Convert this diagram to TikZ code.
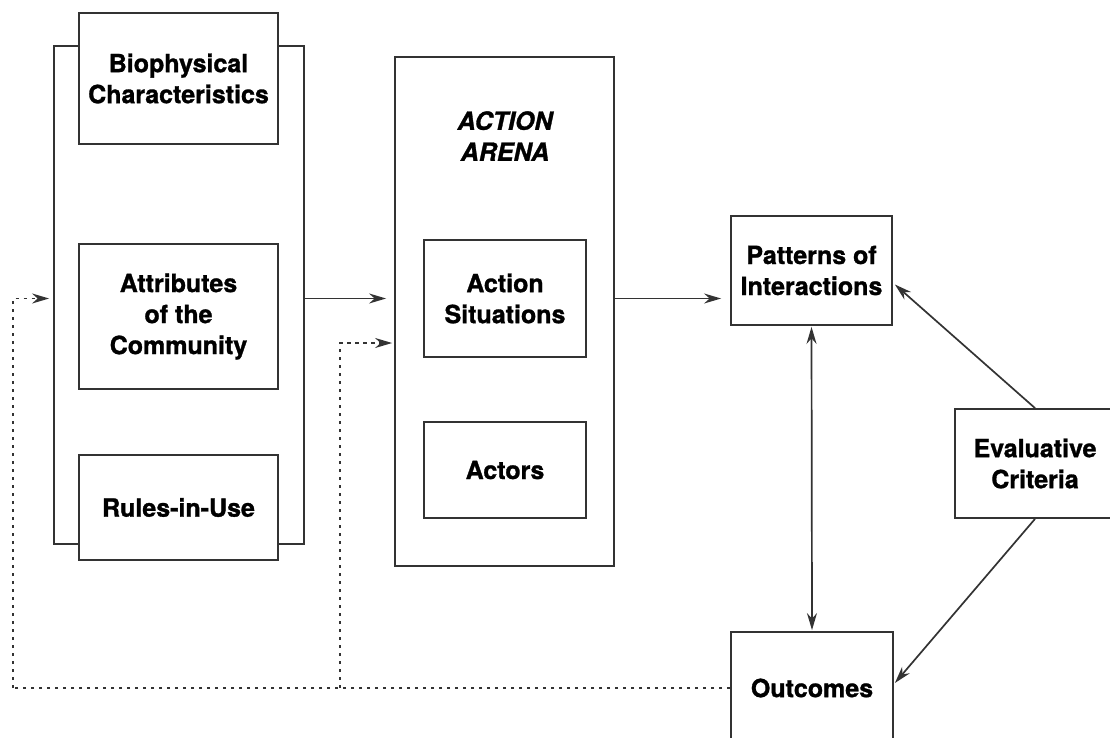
\documentclass[tikz,border=0pt]{standalone}
\usepackage{fontspec}
\setmainfont{TeX Gyre Heros}[BoldFeatures={FakeBold=1.2},BoldItalicFeatures={FakeBold=1.2}]
\usetikzlibrary{arrows.meta,calc}
\definecolor{lc}{HTML}{333333}
\begin{document}
\begin{tikzpicture}[x=1pt,y=-1pt,
  box/.style={draw=lc, line width=1.8pt, fill=white, inner sep=0pt, align=center,
              font=\bfseries\fontsize{25}{31}\selectfont},
  lbl/.style={inner sep=0pt, align=center, font=\bfseries\itshape\fontsize{25}{31}\selectfont},
  tip/.style={-{Stealth[length=17pt,width=10pt]}},
  arr/.style={draw=lc, line width=1.7pt, tip},
  dotarr/.style={arr, dash pattern=on 3.5pt off 4.5pt},
  dotline/.style={draw=lc, line width=1.7pt, dash pattern=on 3.5pt off 4.5pt}]
\useasboundingbox (0,0) rectangle (1110,738);

% left group
\node[box, minimum width=250pt, minimum height=498pt] (frame) at (179,295) {};
\node[box, minimum width=199pt, minimum height=131pt] (bio) at (178.5,78.5) {Biophysical\\Characteristics};
\node[box, minimum width=199pt, minimum height=145pt] (attr) at (178.5,316.5) {Attributes\\of the\\Community};
\node[box, minimum width=199pt, minimum height=105pt] (rules) at (178.5,507.5) {Rules-in-Use};

% action arena
\node[box, minimum width=219pt, minimum height=509pt] (arena) at (504.5,311.5) {};
\node[lbl] (arenalbl) at (505,136) {ACTION\\ARENA};
\node[box, minimum width=162pt, minimum height=117pt] (as) at (505,298.5) {Action\\Situations};
\node[box, minimum width=162pt, minimum height=96pt] (actors) at (505,470) {Actors};

% right side
\node[box, minimum width=161pt, minimum height=109pt] (pat) at (811.5,270.5) {Patterns of\\Interactions};
\node[box, minimum width=162pt, minimum height=112pt] (out) at (812,688) {Outcomes};
\node[box, minimum width=160pt, minimum height=109pt] (ev) at (1035,463.5) {Evaluative\\Criteria};

% solid connectors
\draw[arr, shorten >=8pt] (frame.east |- as.center) -- (arena.west |- as.center);
\draw[arr, shorten >=9pt] (arena.east |- as.center) -- (pat.west |- as.center);
\draw[draw=lc, line width=1.7pt, {Stealth[length=17pt,width=10pt]}-{Stealth[length=17pt,width=10pt]}, shorten <=1pt, shorten >=1pt] (pat.south) -- (out.north);
\draw[arr] (ev.north) -- ([shift={(2,14)}]pat.east);
\draw[arr] (ev.south) -- ([shift={(1,-5)}]out.east);

% dotted feedback
\coordinate (fl) at (13,688);
\coordinate (fm) at (340,688);
\draw[dotline] (out.west) -- (fl);
\draw[dotarr, shorten >=4pt] (fl) |- (frame.west |- as.center);
\draw[dotarr, shorten >=2pt] (fm) |- ([yshift=-44.5pt]arena.west |- as.center);
\end{tikzpicture}
\end{document}
